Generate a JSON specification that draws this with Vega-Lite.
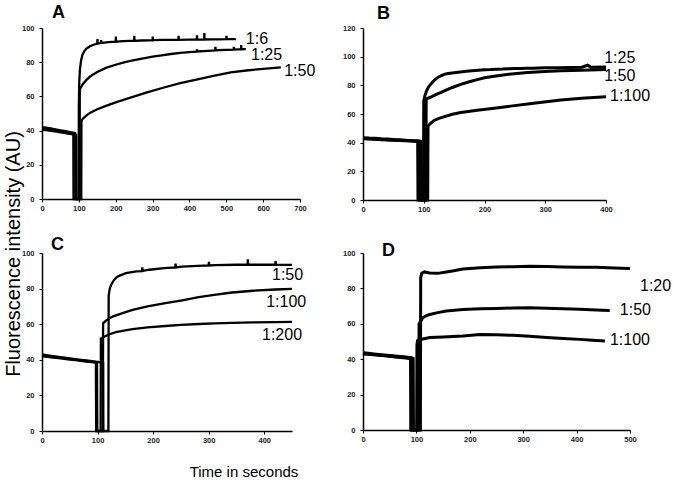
{
"$schema":"https://vega.github.io/schema/vega-lite/v6.json",
"background":"white",
"padding":{"left":3,"top":3,"right":5,"bottom":5},
"config":{
 "view":{"stroke":null},
 "axis":{"grid":false,"domainColor":"black","domainWidth":1.5,"tickColor":"black","tickSize":3,"labelFont":"Liberation Sans","labelFontWeight":"bold","labelFontSize":7.5,"labelColor":"#222","labelOverlap":false,"labelBound":false,"labelFlush":false,"titleFont":"Liberation Sans","titleFontWeight":"normal","titleColor":"black"},
 "axisY":{"labelPadding":5},
 "axisX":{"labelPadding":2},
 "text":{"font":"Liberation Sans","color":"black"}
},
"datasets":{
"A":[
{"s":"1:6","t":0,"v":41},{"s":"1:6","t":10,"v":40.8},{"s":"1:6","t":20,"v":40.5},{"s":"1:6","t":30,"v":40.2},{"s":"1:6","t":40,"v":39.8},{"s":"1:6","t":50,"v":39.4},{"s":"1:6","t":60,"v":39},{"s":"1:6","t":70,"v":38.6},{"s":"1:6","t":80,"v":38.2},{"s":"1:6","t":85,"v":38},{"s":"1:6","t":85.5,"v":0},{"s":"1:6","t":99.5,"v":0},{"s":"1:6","t":100,"v":55},{"s":"1:6","t":101,"v":68},{"s":"1:6","t":103,"v":76},{"s":"1:6","t":106,"v":81},{"s":"1:6","t":110,"v":84.5},{"s":"1:6","t":115,"v":86.5},{"s":"1:6","t":120,"v":87.8},{"s":"1:6","t":130,"v":89.3},{"s":"1:6","t":140,"v":90.2},{"s":"1:6","t":150,"v":90.8},{"s":"1:6","t":150.5,"v":93.5},{"s":"1:6","t":151,"v":90.9},{"s":"1:6","t":160,"v":91.2},{"s":"1:6","t":160.5,"v":93},{"s":"1:6","t":161,"v":91.3},{"s":"1:6","t":170,"v":91.5},{"s":"1:6","t":180,"v":91.7},{"s":"1:6","t":190,"v":91.9},{"s":"1:6","t":200,"v":92},{"s":"1:6","t":200.5,"v":95},{"s":"1:6","t":201,"v":92},{"s":"1:6","t":220,"v":92.3},{"s":"1:6","t":240,"v":92.5},{"s":"1:6","t":250,"v":92.5},{"s":"1:6","t":250.5,"v":95.5},{"s":"1:6","t":251,"v":92.5},{"s":"1:6","t":270,"v":92.7},{"s":"1:6","t":290,"v":92.8},{"s":"1:6","t":300,"v":92.8},{"s":"1:6","t":300.5,"v":95},{"s":"1:6","t":301,"v":92.9},{"s":"1:6","t":330,"v":93},{"s":"1:6","t":350,"v":93},{"s":"1:6","t":370,"v":93.1},{"s":"1:6","t":370.5,"v":95.5},{"s":"1:6","t":371,"v":93.1},{"s":"1:6","t":400,"v":93.2},{"s":"1:6","t":420,"v":93.2},{"s":"1:6","t":420.5,"v":95.8},{"s":"1:6","t":421,"v":93.2},{"s":"1:6","t":440,"v":93.3},{"s":"1:6","t":440.5,"v":97},{"s":"1:6","t":441,"v":93.3},{"s":"1:6","t":460,"v":93.4},{"s":"1:6","t":480,"v":93.4},{"s":"1:6","t":500,"v":93.5},{"s":"1:6","t":500.5,"v":95.5},{"s":"1:6","t":501,"v":93.5},{"s":"1:6","t":526,"v":93.5},
{"s":"1:25","t":0,"v":42},{"s":"1:25","t":10,"v":41.8},{"s":"1:25","t":20,"v":41.4},{"s":"1:25","t":30,"v":41},{"s":"1:25","t":40,"v":40.6},{"s":"1:25","t":50,"v":40.2},{"s":"1:25","t":60,"v":39.8},{"s":"1:25","t":70,"v":39.4},{"s":"1:25","t":80,"v":39},{"s":"1:25","t":90,"v":38.6},{"s":"1:25","t":90.5,"v":0},{"s":"1:25","t":102,"v":0},{"s":"1:25","t":102.5,"v":64},{"s":"1:25","t":106,"v":65.5},{"s":"1:25","t":110,"v":67},{"s":"1:25","t":120,"v":69.5},{"s":"1:25","t":130,"v":71.5},{"s":"1:25","t":140,"v":73},{"s":"1:25","t":150,"v":74.3},{"s":"1:25","t":175,"v":76.8},{"s":"1:25","t":200,"v":78.5},{"s":"1:25","t":225,"v":80},{"s":"1:25","t":250,"v":81.2},{"s":"1:25","t":275,"v":82.3},{"s":"1:25","t":300,"v":83.2},{"s":"1:25","t":325,"v":84},{"s":"1:25","t":350,"v":84.8},{"s":"1:25","t":375,"v":85.4},{"s":"1:25","t":400,"v":85.9},{"s":"1:25","t":420,"v":86.2},{"s":"1:25","t":420.5,"v":87.5},{"s":"1:25","t":421,"v":86.3},{"s":"1:25","t":450,"v":86.6},{"s":"1:25","t":470,"v":86.9},{"s":"1:25","t":470.5,"v":89},{"s":"1:25","t":471,"v":87},{"s":"1:25","t":500,"v":87.2},{"s":"1:25","t":520,"v":87.4},{"s":"1:25","t":520.5,"v":89},{"s":"1:25","t":521,"v":87.4},{"s":"1:25","t":540,"v":87.6},{"s":"1:25","t":540.5,"v":90},{"s":"1:25","t":541,"v":87.6},{"s":"1:25","t":553,"v":87.7},
{"s":"1:50","t":0,"v":40.5},{"s":"1:50","t":10,"v":40.3},{"s":"1:50","t":20,"v":40},{"s":"1:50","t":30,"v":39.7},{"s":"1:50","t":40,"v":39.4},{"s":"1:50","t":50,"v":39},{"s":"1:50","t":60,"v":38.7},{"s":"1:50","t":70,"v":38.3},{"s":"1:50","t":80,"v":38},{"s":"1:50","t":93,"v":37.5},{"s":"1:50","t":93.5,"v":0},{"s":"1:50","t":106.5,"v":0},{"s":"1:50","t":107,"v":45.5},{"s":"1:50","t":110,"v":46.8},{"s":"1:50","t":120,"v":48.8},{"s":"1:50","t":131,"v":50.5},{"s":"1:50","t":150,"v":52.5},{"s":"1:50","t":168,"v":54},{"s":"1:50","t":200,"v":56.5},{"s":"1:50","t":240,"v":59.3},{"s":"1:50","t":285,"v":62.3},{"s":"1:50","t":331,"v":65.2},{"s":"1:50","t":375,"v":67.7},{"s":"1:50","t":422,"v":70},{"s":"1:50","t":465,"v":72},{"s":"1:50","t":512,"v":74},{"s":"1:50","t":560,"v":75.3},{"s":"1:50","t":600,"v":76.1},{"s":"1:50","t":648,"v":77}
],
"B":[
{"s":"1:25","t":0,"v":43.5},{"s":"1:25","t":10,"v":43.2},{"s":"1:25","t":20,"v":43},{"s":"1:25","t":30,"v":42.7},{"s":"1:25","t":40,"v":42.5},{"s":"1:25","t":50,"v":42.2},{"s":"1:25","t":60,"v":42},{"s":"1:25","t":70,"v":41.7},{"s":"1:25","t":80,"v":41.4},{"s":"1:25","t":90,"v":41.2},{"s":"1:25","t":90.5,"v":0},{"s":"1:25","t":99.5,"v":0},{"s":"1:25","t":100,"v":69},{"s":"1:25","t":102,"v":73},{"s":"1:25","t":105,"v":76.5},{"s":"1:25","t":108,"v":79},{"s":"1:25","t":111,"v":80.5},{"s":"1:25","t":115,"v":82.5},{"s":"1:25","t":120,"v":84.5},{"s":"1:25","t":125,"v":86},{"s":"1:25","t":130,"v":87},{"s":"1:25","t":135,"v":87.8},{"s":"1:25","t":140,"v":88.3},{"s":"1:25","t":150,"v":88.8},{"s":"1:25","t":160,"v":89.3},{"s":"1:25","t":170,"v":89.8},{"s":"1:25","t":180,"v":90.2},{"s":"1:25","t":190,"v":90.5},{"s":"1:25","t":200,"v":90.8},{"s":"1:25","t":210,"v":91},{"s":"1:25","t":220,"v":91.3},{"s":"1:25","t":230,"v":91.4},{"s":"1:25","t":240,"v":91.6},{"s":"1:25","t":250,"v":91.7},{"s":"1:25","t":260,"v":91.8},{"s":"1:25","t":270,"v":91.9},{"s":"1:25","t":280,"v":92},{"s":"1:25","t":290,"v":92.1},{"s":"1:25","t":300,"v":92.2},{"s":"1:25","t":320,"v":92.3},{"s":"1:25","t":340,"v":92.5},{"s":"1:25","t":360,"v":92.6},{"s":"1:25","t":370,"v":94},{"s":"1:25","t":375,"v":92.6},{"s":"1:25","t":400,"v":92.8},
{"s":"1:50","t":0,"v":42.8},{"s":"1:50","t":10,"v":42.6},{"s":"1:50","t":20,"v":42.4},{"s":"1:50","t":30,"v":42.1},{"s":"1:50","t":40,"v":41.9},{"s":"1:50","t":50,"v":41.7},{"s":"1:50","t":60,"v":41.5},{"s":"1:50","t":70,"v":41.3},{"s":"1:50","t":80,"v":41.1},{"s":"1:50","t":95,"v":40.8},{"s":"1:50","t":95.5,"v":0},{"s":"1:50","t":103.5,"v":0},{"s":"1:50","t":104,"v":70.5},{"s":"1:50","t":110,"v":71.5},{"s":"1:50","t":120,"v":73.5},{"s":"1:50","t":133,"v":76},{"s":"1:50","t":147,"v":78.5},{"s":"1:50","t":161,"v":80.7},{"s":"1:50","t":175,"v":82.5},{"s":"1:50","t":188,"v":84},{"s":"1:50","t":200,"v":85.3},{"s":"1:50","t":216,"v":86.4},{"s":"1:50","t":240,"v":87.8},{"s":"1:50","t":271,"v":89},{"s":"1:50","t":300,"v":89.7},{"s":"1:50","t":326,"v":90.2},{"s":"1:50","t":360,"v":90.6},{"s":"1:50","t":400,"v":91},
{"s":"1:100","t":0,"v":43},{"s":"1:100","t":10,"v":42.8},{"s":"1:100","t":20,"v":42.6},{"s":"1:100","t":30,"v":42.3},{"s":"1:100","t":40,"v":42.1},{"s":"1:100","t":50,"v":41.9},{"s":"1:100","t":60,"v":41.7},{"s":"1:100","t":70,"v":41.5},{"s":"1:100","t":80,"v":41.3},{"s":"1:100","t":93,"v":41},{"s":"1:100","t":93.5,"v":0},{"s":"1:100","t":106.5,"v":0},{"s":"1:100","t":107,"v":51.5},{"s":"1:100","t":110,"v":53},{"s":"1:100","t":117,"v":55.5},{"s":"1:100","t":125,"v":57},{"s":"1:100","t":133,"v":58},{"s":"1:100","t":147,"v":59.8},{"s":"1:100","t":161,"v":61},{"s":"1:100","t":188,"v":62.6},{"s":"1:100","t":216,"v":64},{"s":"1:100","t":243,"v":65.5},{"s":"1:100","t":271,"v":67},{"s":"1:100","t":298,"v":68.4},{"s":"1:100","t":326,"v":69.8},{"s":"1:100","t":360,"v":71},{"s":"1:100","t":400,"v":72}
],
"C":[
{"s":"1:200","t":0,"v":42.5},{"s":"1:200","t":10,"v":42.2},{"s":"1:200","t":20,"v":41.8},{"s":"1:200","t":30,"v":41.3},{"s":"1:200","t":40,"v":40.9},{"s":"1:200","t":50,"v":40.5},{"s":"1:200","t":60,"v":40.1},{"s":"1:200","t":70,"v":39.7},{"s":"1:200","t":80,"v":39.3},{"s":"1:200","t":90,"v":38.9},{"s":"1:200","t":97,"v":38.6},{"s":"1:200","t":97.5,"v":0},{"s":"1:200","t":105.5,"v":0},{"s":"1:200","t":106,"v":52},{"s":"1:200","t":112,"v":53},{"s":"1:200","t":120,"v":54.2},{"s":"1:200","t":133,"v":55.5},{"s":"1:200","t":150,"v":56.5},{"s":"1:200","t":163,"v":57.2},{"s":"1:200","t":190,"v":58.2},{"s":"1:200","t":222,"v":59},{"s":"1:200","t":250,"v":59.6},{"s":"1:200","t":282,"v":60.1},{"s":"1:200","t":310,"v":60.5},{"s":"1:200","t":342,"v":60.8},{"s":"1:200","t":380,"v":61},{"s":"1:200","t":420,"v":61.2},{"s":"1:200","t":450,"v":61.3},
{"s":"1:100","t":0,"v":42},{"s":"1:100","t":10,"v":41.7},{"s":"1:100","t":20,"v":41.3},{"s":"1:100","t":30,"v":40.9},{"s":"1:100","t":40,"v":40.5},{"s":"1:100","t":50,"v":40.1},{"s":"1:100","t":60,"v":39.8},{"s":"1:100","t":70,"v":39.4},{"s":"1:100","t":80,"v":39},{"s":"1:100","t":90,"v":38.7},{"s":"1:100","t":99,"v":38.4},{"s":"1:100","t":99.5,"v":0},{"s":"1:100","t":109.5,"v":0},{"s":"1:100","t":110,"v":60.5},{"s":"1:100","t":115,"v":62},{"s":"1:100","t":127,"v":64.3},{"s":"1:100","t":145,"v":66.2},{"s":"1:100","t":163,"v":68},{"s":"1:100","t":190,"v":70},{"s":"1:100","t":222,"v":71.8},{"s":"1:100","t":250,"v":73.3},{"s":"1:100","t":282,"v":75.2},{"s":"1:100","t":310,"v":76.5},{"s":"1:100","t":342,"v":77.8},{"s":"1:100","t":380,"v":78.8},{"s":"1:100","t":420,"v":79.5},{"s":"1:100","t":450,"v":79.8},
{"s":"1:50","t":0,"v":43},{"s":"1:50","t":10,"v":42.5},{"s":"1:50","t":20,"v":42},{"s":"1:50","t":30,"v":41.6},{"s":"1:50","t":40,"v":41.2},{"s":"1:50","t":50,"v":40.8},{"s":"1:50","t":60,"v":40.4},{"s":"1:50","t":70,"v":40},{"s":"1:50","t":80,"v":39.6},{"s":"1:50","t":90,"v":39.2},{"s":"1:50","t":100,"v":38.8},{"s":"1:50","t":110,"v":38.3},{"s":"1:50","t":110.5,"v":0},{"s":"1:50","t":119.5,"v":0},{"s":"1:50","t":120,"v":76},{"s":"1:50","t":122,"v":80},{"s":"1:50","t":125,"v":82.5},{"s":"1:50","t":130,"v":85},{"s":"1:50","t":135,"v":86.5},{"s":"1:50","t":140,"v":87.3},{"s":"1:50","t":151,"v":88.7},{"s":"1:50","t":170,"v":89.7},{"s":"1:50","t":180,"v":89.8},{"s":"1:50","t":180.5,"v":92},{"s":"1:50","t":181,"v":89.9},{"s":"1:50","t":193,"v":90.6},{"s":"1:50","t":220,"v":91.5},{"s":"1:50","t":240,"v":91.9},{"s":"1:50","t":240.5,"v":94},{"s":"1:50","t":241,"v":91.9},{"s":"1:50","t":252,"v":92.3},{"s":"1:50","t":280,"v":92.8},{"s":"1:50","t":300,"v":93},{"s":"1:50","t":300.5,"v":95},{"s":"1:50","t":301,"v":93},{"s":"1:50","t":312,"v":93.2},{"s":"1:50","t":350,"v":93.4},{"s":"1:50","t":370,"v":93.4},{"s":"1:50","t":370.5,"v":96.5},{"s":"1:50","t":371,"v":93.4},{"s":"1:50","t":400,"v":93.4},{"s":"1:50","t":420,"v":93.4},{"s":"1:50","t":420.5,"v":95.5},{"s":"1:50","t":421,"v":93.4},{"s":"1:50","t":450,"v":93.3}
],
"D":[
{"s":"1:100","t":0,"v":43.3},{"s":"1:100","t":10,"v":43},{"s":"1:100","t":20,"v":42.7},{"s":"1:100","t":30,"v":42.4},{"s":"1:100","t":40,"v":42.1},{"s":"1:100","t":50,"v":41.8},{"s":"1:100","t":60,"v":41.5},{"s":"1:100","t":70,"v":41.2},{"s":"1:100","t":80,"v":40.9},{"s":"1:100","t":89,"v":40.6},{"s":"1:100","t":89.5,"v":0},{"s":"1:100","t":100.5,"v":0},{"s":"1:100","t":101,"v":48},{"s":"1:100","t":102,"v":50.5},{"s":"1:100","t":105,"v":51},{"s":"1:100","t":110,"v":51.3},{"s":"1:100","t":125,"v":52.2},{"s":"1:100","t":150,"v":52.6},{"s":"1:100","t":187,"v":53.1},{"s":"1:100","t":219,"v":54},{"s":"1:100","t":250,"v":53.8},{"s":"1:100","t":281,"v":53.5},{"s":"1:100","t":312,"v":52.9},{"s":"1:100","t":344,"v":52.2},{"s":"1:100","t":375,"v":51.7},{"s":"1:100","t":406,"v":51.2},{"s":"1:100","t":430,"v":50.7},{"s":"1:100","t":453,"v":50.3},
{"s":"1:50","t":0,"v":43},{"s":"1:50","t":10,"v":42.8},{"s":"1:50","t":20,"v":42.5},{"s":"1:50","t":30,"v":42.2},{"s":"1:50","t":40,"v":41.9},{"s":"1:50","t":50,"v":41.6},{"s":"1:50","t":60,"v":41.3},{"s":"1:50","t":70,"v":41},{"s":"1:50","t":80,"v":40.7},{"s":"1:50","t":94,"v":40.3},{"s":"1:50","t":94.5,"v":0},{"s":"1:50","t":104.5,"v":0},{"s":"1:50","t":105,"v":60},{"s":"1:50","t":108,"v":61.5},{"s":"1:50","t":112,"v":63.4},{"s":"1:50","t":118,"v":64.5},{"s":"1:50","t":125,"v":65.3},{"s":"1:50","t":140,"v":66.3},{"s":"1:50","t":156,"v":67.2},{"s":"1:50","t":187,"v":68.1},{"s":"1:50","t":220,"v":68.5},{"s":"1:50","t":250,"v":68.7},{"s":"1:50","t":281,"v":68.9},{"s":"1:50","t":312,"v":69},{"s":"1:50","t":344,"v":68.8},{"s":"1:50","t":375,"v":68.5},{"s":"1:50","t":406,"v":68.2},{"s":"1:50","t":437,"v":67.8},{"s":"1:50","t":462,"v":67.5},
{"s":"1:20","t":0,"v":43.6},{"s":"1:20","t":10,"v":43.3},{"s":"1:20","t":20,"v":43},{"s":"1:20","t":30,"v":42.7},{"s":"1:20","t":40,"v":42.4},{"s":"1:20","t":50,"v":42.1},{"s":"1:20","t":60,"v":41.8},{"s":"1:20","t":70,"v":41.5},{"s":"1:20","t":80,"v":41.2},{"s":"1:20","t":91,"v":40.8},{"s":"1:20","t":91.5,"v":0},{"s":"1:20","t":107.5,"v":0},{"s":"1:20","t":108,"v":86},{"s":"1:20","t":110,"v":88.5},{"s":"1:20","t":115,"v":89.3},{"s":"1:20","t":125,"v":88.7},{"s":"1:20","t":140,"v":88.5},{"s":"1:20","t":156,"v":89.3},{"s":"1:20","t":170,"v":90},{"s":"1:20","t":187,"v":91},{"s":"1:20","t":220,"v":91.7},{"s":"1:20","t":250,"v":92.1},{"s":"1:20","t":281,"v":92.3},{"s":"1:20","t":312,"v":92.5},{"s":"1:20","t":344,"v":92.4},{"s":"1:20","t":375,"v":92.1},{"s":"1:20","t":406,"v":92},{"s":"1:20","t":437,"v":91.9},{"s":"1:20","t":470,"v":91.5},{"s":"1:20","t":500,"v":91.2}
],
"labels":[
{"p":"A","t":553,"v":93.5,"txt":"1:6"},{"p":"A","t":567,"v":84.2,"txt":"1:25"},{"p":"A","t":657,"v":74.6,"txt":"1:50"},
{"p":"B","t":397,"v":99,"txt":"1:25"},{"p":"B","t":397,"v":86.8,"txt":"1:50"},{"p":"B","t":406.6,"v":72.7,"txt":"1:100"},
{"p":"C","t":414,"v":87.6,"txt":"1:50"},{"p":"C","t":403.6,"v":72.3,"txt":"1:100"},{"p":"C","t":396,"v":53.7,"txt":"1:200"},
{"p":"D","t":518.7,"v":81.4,"txt":"1:20"},{"p":"D","t":481,"v":67.8,"txt":"1:50"},{"p":"D","t":462.5,"v":50.8,"txt":"1:100"}
],
"letters":[
{"p":"A","t":27,"v":108.9,"txt":"A"},{"p":"B","t":23,"v":129.6,"txt":"B"},{"p":"C","t":16.2,"v":104.5,"txt":"C"},{"p":"D","t":35.6,"v":101,"txt":"D"}
]
},
"columns":2,
"align":"each",
"bounds":"flush",
"spacing":{"row":53,"column":63},
"concat":[
{"width":258,"height":171,
 "encoding":{"x":{"field":"t","type":"quantitative","scale":{"domain":[0,700],"nice":false},"axis":{"values":[0,100,200,300,400,500,600,700],"title":null,"labelOverlap":false}},
   "y":{"field":"v","type":"quantitative","scale":{"domain":[0,100],"nice":false},"axis":{"values":[0,20,40,60,80,100],"labelOverlap":false,"title":"Fluorescence intensity (AU)","titleFontSize":20,"titleX":-23,"titleY":225.5,"titleBaseline":"alphabetic","titleAlign":"center","titleAngle":-90}}},
 "layer":[
 {"data":{"name":"A"},"mark":{"type":"line","strokeWidth":2.3,"color":"black"},"encoding":{"detail":{"field":"s"}}},
 {"data":{"name":"labels"},"transform":[{"filter":"datum.p=='A'"}],"mark":{"type":"text","align":"left","baseline":"middle","fontSize":16},"encoding":{"text":{"field":"txt"}}},
 {"data":{"name":"letters"},"transform":[{"filter":"datum.p=='A'"}],"mark":{"type":"text","align":"left","baseline":"middle","fontSize":18,"fontWeight":"bold"},"encoding":{"text":{"field":"txt"}}}
]},
{"width":243,"height":172,
 "encoding":{"x":{"field":"t","type":"quantitative","scale":{"domain":[0,400],"nice":false},"axis":{"values":[0,100,200,300,400],"title":null,"labelOverlap":false}},
   "y":{"field":"v","type":"quantitative","scale":{"domain":[0,120],"nice":false},"axis":{"values":[0,20,40,60,80,100,120],"title":null,"labelOverlap":false}}},
 "layer":[
 {"data":{"name":"B"},"mark":{"type":"line","strokeWidth":3,"color":"black"},"encoding":{"detail":{"field":"s"}}},
 {"data":{"name":"labels"},"transform":[{"filter":"datum.p=='B'"}],"mark":{"type":"text","align":"left","baseline":"middle","fontSize":16},"encoding":{"text":{"field":"txt"}}},
 {"data":{"name":"letters"},"transform":[{"filter":"datum.p=='B'"}],"mark":{"type":"text","align":"left","baseline":"middle","fontSize":18,"fontWeight":"bold"},"encoding":{"text":{"field":"txt"}}}
]},
{"width":250,"height":178,
 "encoding":{"x":{"field":"t","type":"quantitative","scale":{"domain":[0,450],"nice":false},"axis":{"values":[0,100,200,300,400],"labelOverlap":false,"title":"Time in seconds","titleFontSize":15,"titleX":201.5,"titleY":45,"titleBaseline":"alphabetic","titleAlign":"center"}},
   "y":{"field":"v","type":"quantitative","scale":{"domain":[0,100],"nice":false},"axis":{"values":[0,20,40,60,80,100],"title":null,"labelOverlap":false}}},
 "layer":[
 {"data":{"name":"C"},"mark":{"type":"line","strokeWidth":2.3,"color":"black"},"encoding":{"detail":{"field":"s"}}},
 {"data":{"name":"labels"},"transform":[{"filter":"datum.p=='C'"}],"mark":{"type":"text","align":"left","baseline":"middle","fontSize":16},"encoding":{"text":{"field":"txt"}}},
 {"data":{"name":"letters"},"transform":[{"filter":"datum.p=='C'"}],"mark":{"type":"text","align":"left","baseline":"middle","fontSize":18,"fontWeight":"bold"},"encoding":{"text":{"field":"txt"}}}
]},
{"width":267,"height":177,
 "encoding":{"x":{"field":"t","type":"quantitative","scale":{"domain":[0,500],"nice":false},"axis":{"values":[0,100,200,300,400,500],"title":null,"labelOverlap":false}},
   "y":{"field":"v","type":"quantitative","scale":{"domain":[0,100],"nice":false},"axis":{"values":[0,20,40,60,80,100],"title":null,"labelOverlap":false}}},
 "layer":[
 {"data":{"name":"D"},"mark":{"type":"line","strokeWidth":3,"color":"black"},"encoding":{"detail":{"field":"s"}}},
 {"data":{"name":"labels"},"transform":[{"filter":"datum.p=='D'"}],"mark":{"type":"text","align":"left","baseline":"middle","fontSize":16},"encoding":{"text":{"field":"txt"}}},
 {"data":{"name":"letters"},"transform":[{"filter":"datum.p=='D'"}],"mark":{"type":"text","align":"left","baseline":"middle","fontSize":18,"fontWeight":"bold"},"encoding":{"text":{"field":"txt"}}}
]}
]
}
